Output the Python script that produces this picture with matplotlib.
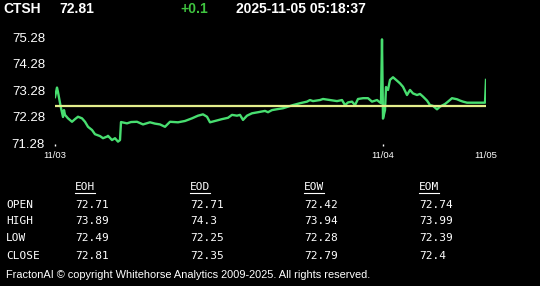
import matplotlib.pyplot as plt
from matplotlib.lines import Line2D

# header
symbol = 'CTSH'
last_price = '72.81'
change = '+0.1'
stamp = '2025-11-05 05:18:37'

# intraday trace (bar index, price)
bar_idx = [0, 2, 3, 5, 6, 8, 9, 10, 13, 17, 20, 23, 27, 30, 33, 37, 40, 45, 48, 52,
           53, 57, 60, 63, 65, 66, 72, 76, 82, 85, 88, 95, 100, 105, 110, 115, 123, 130,
           137, 143, 148, 152, 155, 160, 167, 173, 177, 182, 185, 188, 192, 197, 203, 210,
           213, 217, 223, 228, 233, 238, 245, 252, 255, 258, 265, 268, 275, 282, 287, 290,
           293, 297, 300, 303, 308, 313, 317, 322, 326, 327, 328, 330, 331, 333, 335, 338,
           342, 345, 348, 352, 355, 358, 362, 365, 368, 372, 375, 378, 382, 385, 390, 393,
           397, 402, 405, 408, 412, 418, 430, 431]
price = [73.03, 73.39, 73.22, 72.81, 72.62, 72.28, 72.54, 72.36, 72.23, 72.10, 72.20,
         72.29, 72.23, 72.10, 71.91, 71.79, 71.63, 71.56, 71.48, 71.54, 71.57, 71.41,
         71.48, 71.35, 71.41, 72.09, 72.04, 72.09, 72.10, 72.05, 72.00, 72.08, 72.03,
         72.00, 71.91, 72.10, 72.08, 72.13, 72.23, 72.33, 72.38, 72.29, 72.08, 72.13,
         72.20, 72.25, 72.36, 72.33, 72.36, 72.17, 72.33, 72.42, 72.46, 72.51, 72.46,
         72.54, 72.58, 72.61, 72.67, 72.73, 72.80, 72.86, 72.92, 72.88, 72.92, 72.96,
         72.92, 72.88, 72.92, 72.73, 72.83, 72.86, 72.73, 72.96, 72.99, 72.99, 72.86,
         72.92, 72.80, 75.21, 72.22, 72.54, 73.41, 73.30, 73.68, 73.78, 73.65, 73.55,
         73.42, 73.11, 73.30, 73.17, 73.11, 73.15, 73.05, 72.90, 72.73, 72.70, 72.57,
         72.67, 72.77, 72.86, 72.99, 72.95, 72.90, 72.86, 72.82, 72.82, 72.82, 73.68]
ref_level = 72.71

ytick_vals = [71.28, 72.28, 73.28, 74.28, 75.28]
date_pos = [0, 328, 431]
date_labels = ['11/03', '11/04', '11/05']

# stats table
row_names = ['OPEN', 'HIGH', 'LOW', 'CLOSE']
col_names = ['EOH', 'EOD', 'EOW', 'EOM']
eoh = ['72.71', '73.89', '72.49', '72.81']
eod = ['72.71', '74.3', '72.25', '72.35']
eow = ['72.42', '73.94', '72.28', '72.79']
eom = ['72.74', '73.99', '72.39', '72.4']
footer = 'FractonAI \u00a9 copyright Whitehorse Analytics 2009-2025. All rights reserved.'

W, H = 540, 286
fig = plt.figure(figsize=(W / 100, H / 100), dpi=100, facecolor='black')

def px(x, y):
    return x / W, 1 - y / H

sans = 'Liberation Sans'
mono = 'DejaVu Sans Mono'

# header line
for x, s, c in [(3, symbol, 'white'), (59, last_price, 'white'),
                (180, change, '#3fc43f'), (236, stamp, 'white')]:
    fig.text(*px(x, 9), s, color=c, fontsize=10, fontweight='bold',
             family=sans, va='center', ha='left')

# price chart
top, bot, left, right = 28, 144, 55, 486
ax = fig.add_axes([left / W, 1 - bot / H, (right - left) / W, (bot - top) / H])
ax.set_facecolor('black')
ax.plot(bar_idx, price, color='#48de70', lw=1.7, zorder=2)
ax.axhline(ref_level, color='#e4ee8c', lw=1.6, zorder=3)
ax.set_xlim(0, 431)
ax.set_ylim(72.28 - 27 / 26.5, 72.28 + 89 / 26.5)
for s in ax.spines.values():
    s.set_visible(False)
ax.set_yticks(ytick_vals)
ax.set_yticklabels(['%.2f' % v for v in ytick_vals])
ax.tick_params(axis='y', length=0, pad=7.2, labelcolor='white', labelsize=9.5)
ax.set_xticks(date_pos)
ax.set_xticklabels(date_labels)
ax.tick_params(axis='x', length=1.5, width=1, color='white', pad=3.8,
               labelcolor='white', labelsize=6.8)
ax.xaxis.get_major_ticks()[2].tick1line.set_visible(False)
for lab in ax.get_xticklabels() + ax.get_yticklabels():
    lab.set_family(sans)

# table
col_x = [75, 190, 304, 419]
row_y = [205, 221.5, 238, 256]
cols = [eoh, eod, eow, eom]
for cx, name, vals in zip(col_x, col_names, cols):
    fig.text(*px(cx, 187), name, color='white', fontsize=8, family=mono,
             va='center', ha='left')
    fig.add_artist(Line2D([cx / W, (cx + 20) / W], [1 - 192.5 / H] * 2,
                          color='white', lw=0.8))
    for ry, v in zip(row_y, vals):
        fig.text(*px(cx, ry), v, color='white', fontsize=8, family=mono,
                 va='center', ha='left')
for ry, name in zip(row_y, row_names):
    fig.text(*px(6, ry), name, color='white', fontsize=8, family=mono,
             va='center', ha='left')

fig.text(*px(6, 275), footer, color='white', fontsize=7.9, family=sans,
         va='center', ha='left')

fig.savefig('out.png', dpi=100, facecolor='black')
